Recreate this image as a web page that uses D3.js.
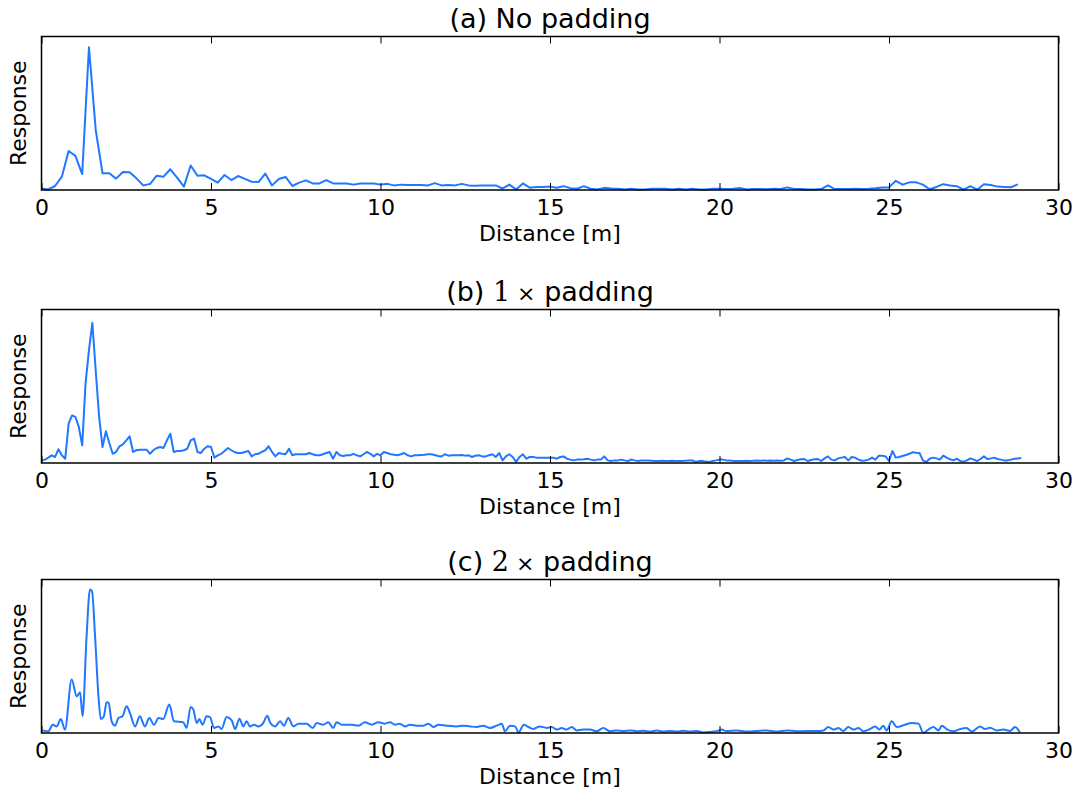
<!DOCTYPE html>
<html>
<head>
<meta charset="utf-8">
<script src="https://cdn.jsdelivr.net/npm/d3@7"></script>
<style>
  body { margin: 0; background: #fff; }
  text { font-family: "DejaVu Sans", sans-serif; fill: #000; }
</style>
</head>
<body>
<div id="chart"></div>
<script>
// x ticks shared by all three panels
const ticks = [0, 5, 10, 15, 20, 25, 30]

// (a) no padding : one sample every 0.2 m
const stepA = 0.2
const respA = [
  0.010, 0.004, 0.026, 0.087, 0.254, 0.222, 0.104, 0.930, 0.390, 0.109,
  0.109, 0.074, 0.117, 0.115, 0.076, 0.030, 0.039, 0.093, 0.087, 0.135,
  0.080, 0.022, 0.160, 0.093, 0.096, 0.072, 0.048, 0.098, 0.065, 0.091,
  0.072, 0.054, 0.052, 0.107, 0.030, 0.072, 0.085, 0.026, 0.048, 0.063,
  0.043, 0.043, 0.065, 0.043, 0.043, 0.043, 0.035, 0.043, 0.043, 0.043,
  0.035, 0.040, 0.030, 0.035, 0.033, 0.033, 0.033, 0.030, 0.045, 0.030,
  0.032, 0.030, 0.040, 0.030, 0.028, 0.030, 0.030, 0.030, 0.010, 0.035,
  0.004, 0.043, 0.015, 0.020, 0.020, 0.022, 0.015, 0.025, 0.012, 0.008,
  0.025, 0.008, 0.004, 0.014, 0.010, 0.008, 0.004, 0.008, 0.004, 0.004,
  0.008, 0.008, 0.008, 0.004, 0.008, 0.004, 0.008, 0.004, 0.004, 0.008,
  0.008, 0.006, 0.008, 0.013, 0.004, 0.006, 0.006, 0.005, 0.008, 0.006,
  0.017, 0.006, 0.006, 0.004, 0.004, 0.006, 0.030, 0.006, 0.006, 0.006,
  0.008, 0.006, 0.008, 0.012, 0.017, 0.017, 0.060, 0.035, 0.050, 0.050,
  0.035, 0.005, 0.020, 0.038, 0.030, 0.025, 0.002, 0.025, 0.002, 0.037,
  0.033, 0.022, 0.020, 0.018, 0.037
]

// (b) 1x padding : one sample every 0.1 m
const stepB = 0.1
const respB = [
  0.017, 0.022, 0.035, 0.050, 0.039, 0.090, 0.050, 0.028, 0.256, 0.310,
  0.300, 0.235, 0.115, 0.520, 0.735, 0.913, 0.600, 0.300, 0.104, 0.207,
  0.130, 0.060, 0.072, 0.109, 0.122, 0.148, 0.174, 0.072, 0.083, 0.087,
  0.087, 0.087, 0.060, 0.083, 0.098, 0.104, 0.098, 0.148, 0.191, 0.072,
  0.078, 0.078, 0.083, 0.093, 0.148, 0.159, 0.072, 0.065, 0.093, 0.109,
  0.104, 0.035, 0.050, 0.060, 0.078, 0.098, 0.083, 0.070, 0.065, 0.065,
  0.072, 0.078, 0.043, 0.057, 0.060, 0.072, 0.083, 0.109, 0.072, 0.043,
  0.065, 0.060, 0.057, 0.093, 0.050, 0.057, 0.057, 0.057, 0.057, 0.065,
  0.057, 0.050, 0.050, 0.057, 0.065, 0.072, 0.028, 0.072, 0.050, 0.046,
  0.050, 0.050, 0.060, 0.050, 0.043, 0.057, 0.072, 0.060, 0.043, 0.060,
  0.050, 0.072, 0.065, 0.057, 0.054, 0.050, 0.057, 0.065, 0.050, 0.043,
  0.050, 0.050, 0.052, 0.054, 0.057, 0.057, 0.052, 0.046, 0.043, 0.057,
  0.048, 0.050, 0.050, 0.050, 0.052, 0.048, 0.050, 0.039, 0.048, 0.050,
  0.043, 0.043, 0.050, 0.057, 0.039, 0.065, 0.017, 0.043, 0.057, 0.039,
  0.007, 0.039, 0.057, 0.028, 0.039, 0.039, 0.035, 0.035, 0.035, 0.035,
  0.035, 0.035, 0.028, 0.039, 0.043, 0.028, 0.022, 0.017, 0.022, 0.022,
  0.024, 0.028, 0.022, 0.017, 0.022, 0.022, 0.043, 0.017, 0.013, 0.017,
  0.017, 0.022, 0.017, 0.013, 0.022, 0.017, 0.013, 0.017, 0.017, 0.017,
  0.015, 0.013, 0.013, 0.015, 0.013, 0.013, 0.015, 0.013, 0.013, 0.013,
  0.015, 0.017, 0.017, 0.007, 0.013, 0.013, 0.009, 0.007, 0.013, 0.017,
  0.022, 0.022, 0.017, 0.017, 0.013, 0.013, 0.013, 0.013, 0.015, 0.013,
  0.015, 0.017, 0.015, 0.017, 0.015, 0.017, 0.015, 0.017, 0.015, 0.017,
  0.030, 0.022, 0.013, 0.020, 0.024, 0.026, 0.013, 0.020, 0.024, 0.026,
  0.013, 0.030, 0.043, 0.022, 0.017, 0.030, 0.035, 0.039, 0.017, 0.039,
  0.035, 0.022, 0.015, 0.017, 0.022, 0.035, 0.022, 0.048, 0.048, 0.043,
  0.013, 0.078, 0.035, 0.039, 0.046, 0.052, 0.060, 0.070, 0.067, 0.065,
  0.017, 0.007, 0.028, 0.035, 0.030, 0.022, 0.048, 0.035, 0.024, 0.017,
  0.028, 0.013, 0.009, 0.017, 0.030, 0.022, 0.013, 0.026, 0.043, 0.026,
  0.030, 0.035, 0.026, 0.022, 0.017, 0.017, 0.022, 0.028, 0.030, 0.032
]

// (c) 2x padding : smooth curve, read at its turning points
const distC = [
  0.03, 0.20, 0.33, 0.45, 0.57, 0.69, 0.89, 1.04, 1.14, 1.21,
  1.33, 1.43, 1.49, 1.58, 1.68, 1.75, 1.84, 1.92, 1.98, 2.07,
  2.17, 2.27, 2.39, 2.51, 2.61, 2.76, 2.90, 3.05, 3.18, 3.32,
  3.45, 3.59, 3.77, 3.91, 4.18, 4.28, 4.40, 4.48, 4.58, 4.66,
  4.75, 4.87, 4.97, 5.09, 5.22, 5.31, 5.46, 5.61, 5.71, 5.84,
  5.95, 6.05, 6.15, 6.27, 6.40, 6.54, 6.66, 6.74, 6.89, 7.04,
  7.15, 7.28, 7.43, 7.58, 7.82, 8.00, 8.12, 8.31, 8.46, 8.60,
  8.71, 8.86, 9.00, 9.15, 9.35, 9.54, 9.74, 9.94, 10.13, 10.28,
  10.43, 10.57, 10.72, 10.87, 11.07, 11.27, 11.41, 11.56, 11.71, 11.95,
  12.25, 12.44, 12.64, 12.84, 13.03, 13.23, 13.43, 13.58, 13.67, 13.82,
  13.97, 14.07, 14.23, 14.36, 14.51, 14.70, 14.90, 15.05, 15.20, 15.34,
  15.49, 15.64, 15.79, 15.98, 16.18, 16.38, 16.57, 16.77, 16.97, 17.16,
  17.36, 17.56, 17.75, 17.95, 18.15, 18.34, 18.54, 18.74, 18.93, 19.13,
  19.33, 19.53, 19.72, 19.92, 20.06, 20.20, 20.51, 20.80, 21.10, 21.39,
  21.69, 21.98, 22.28, 22.57, 22.87, 23.07, 23.21, 23.36, 23.51, 23.65,
  23.80, 23.95, 24.10, 24.24, 24.44, 24.59, 24.72, 24.83, 24.93, 25.08,
  25.23, 25.47, 25.67, 25.87, 26.01, 26.16, 26.31, 26.46, 26.56, 26.70,
  26.90, 27.10, 27.29, 27.44, 27.69, 27.83, 27.98, 28.18, 28.38, 28.57,
  28.72, 28.86
]
const respC = [
  0.017, 0.011, 0.054, 0.043, 0.091, 0.022, 0.348, 0.239, 0.265, 0.109,
  0.630, 0.935, 0.924, 0.630, 0.239, 0.091, 0.109, 0.200, 0.196, 0.076,
  0.048, 0.098, 0.109, 0.174, 0.130, 0.043, 0.109, 0.043, 0.098, 0.054,
  0.098, 0.091, 0.185, 0.076, 0.070, 0.033, 0.170, 0.152, 0.065, 0.091,
  0.054, 0.109, 0.104, 0.033, 0.043, 0.026, 0.104, 0.083, 0.026, 0.093,
  0.043, 0.076, 0.043, 0.054, 0.043, 0.065, 0.113, 0.070, 0.043, 0.076,
  0.048, 0.098, 0.043, 0.061, 0.061, 0.033, 0.065, 0.054, 0.070, 0.033,
  0.070, 0.054, 0.054, 0.054, 0.048, 0.070, 0.054, 0.070, 0.061, 0.070,
  0.054, 0.061, 0.043, 0.054, 0.048, 0.048, 0.061, 0.039, 0.054, 0.048,
  0.043, 0.048, 0.043, 0.039, 0.048, 0.033, 0.048, 0.061, 0.011, 0.048,
  0.043, 0.004, 0.054, 0.039, 0.026, 0.043, 0.033, 0.039, 0.022, 0.033,
  0.022, 0.039, 0.017, 0.022, 0.022, 0.011, 0.033, 0.011, 0.017, 0.013,
  0.017, 0.011, 0.015, 0.009, 0.017, 0.009, 0.013, 0.009, 0.015, 0.009,
  0.013, 0.004, 0.007, 0.011, 0.022, 0.013, 0.017, 0.009, 0.013, 0.017,
  0.009, 0.017, 0.011, 0.013, 0.013, 0.017, 0.039, 0.022, 0.033, 0.013,
  0.039, 0.022, 0.033, 0.011, 0.026, 0.043, 0.022, 0.048, 0.017, 0.076,
  0.039, 0.054, 0.065, 0.061, 0.002, 0.022, 0.039, 0.017, 0.048, 0.026,
  0.011, 0.026, 0.033, 0.009, 0.043, 0.026, 0.035, 0.017, 0.022, 0.013,
  0.039, 0.004
]

const width = 1074
const height = 792
const left = 41.5, right = 1058.5

const panels = [
  {id: "a", top: 36.5, bottom: 190, curve: d3.curveLinear,
   pts: respA.map((v, i) => [i * stepA, v])},
  {id: "b", top: 309.5, bottom: 463, curve: d3.curveLinear,
   pts: respB.map((v, i) => [i * stepB, v])},
  {id: "c", top: 579.5, bottom: 733, curve: d3.curveMonotoneX,
   pts: respC.map((v, i) => [distC[i], v])}
]

var svg = d3.select("#chart").append("svg")
    .attr("width", width)
    .attr("height", height)

const x = d3.scaleLinear().domain([0, 30]).range([left, right])

for (var p of panels) {
    const y = d3.scaleLinear().domain([0, 1]).range([p.bottom, p.top])
    const g = svg.append("g")

    // the curve
    g.append("path")
        .datum(p.pts)
        .attr("fill", "none")
        .attr("stroke", "#1f78ff")
        .attr("stroke-width", 2)
        .attr("stroke-linejoin", "round")
        .attr("d", d3.line().x(d => x(d[0])).y(d => y(d[1])).curve(p.curve))

    // ticks point inwards, on bottom and top
    const bot = g.append("g")
        .attr("transform", `translate(0, ${p.bottom})`)
        .call(d3.axisBottom(x).tickValues(ticks).tickFormat(d3.format("d"))
            .tickSizeInner(-7).tickSizeOuter(0).tickPadding(9))
    bot.select(".domain").remove()
    bot.selectAll("text")
        .attr("font-family", "DejaVu Sans, sans-serif")
        .attr("font-size", 22)
        .attr("fill", "#000")
    bot.selectAll("line").attr("stroke", "#000")

    const topAx = g.append("g")
        .attr("transform", `translate(0, ${p.top})`)
        .call(d3.axisTop(x).tickValues(ticks).tickFormat("")
            .tickSizeInner(-7).tickSizeOuter(0))
    topAx.select(".domain").remove()
    topAx.selectAll("line").attr("stroke", "#000")

    // frame
    g.append("rect")
        .attr("x", left)
        .attr("y", p.top)
        .attr("width", right - left)
        .attr("height", p.bottom - p.top)
        .attr("fill", "none")
        .attr("stroke", "#000")
        .attr("stroke-width", 1.5)

    g.append("text")
        .attr("x", (left + right) / 2)
        .attr("y", p.bottom + 51)
        .attr("text-anchor", "middle")
        .style("font-size", "22px")
        .text("Distance [m]")

    g.append("text")
        .attr("transform", `translate(26, ${(p.top + p.bottom) / 2}) rotate(-90)`)
        .attr("text-anchor", "middle")
        .style("font-size", "22px")
        .text("Response")

    const title = g.append("text")
        .attr("x", (left + right) / 2)
        .attr("y", p.top - 9)
        .attr("text-anchor", "middle")
        .style("font-size", "27px")
    if (p.id == "a") {
        title.text("(a) No padding")
    } else {
        title.append("tspan").text(`(${p.id}) `)
        title.append("tspan").style("font-family", "DejaVu Serif").text(p.id == "b" ? "1" : "2")
        title.append("tspan").style("font-size", "22px").text(" \u00d7")
        title.append("tspan").text(" padding")
    }
}
</script>
</body>
</html>
